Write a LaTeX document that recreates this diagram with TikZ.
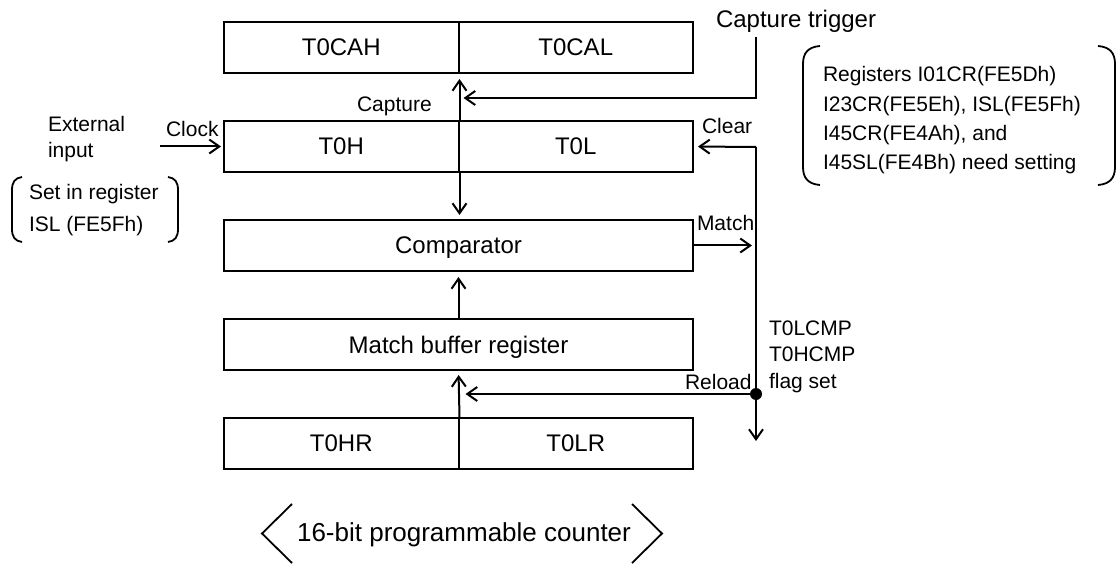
\documentclass[tikz,border=0pt]{standalone}
\usepackage{fontspec}
\setmainfont{Liberation Sans}
\usetikzlibrary{arrows.meta}
\begin{document}
\begin{tikzpicture}[x=1pt,y=-1pt, line width=2pt,
  reg/.style={draw, rectangle, minimum height=51pt, inner sep=0pt, text depth=0pt, font=\fontsize{24}{28}\selectfont},
  half/.style={reg, minimum width=234.5pt},
  full/.style={reg, minimum width=469pt},
  lbl/.style={inner sep=0pt, anchor=base west, font=\fontsize{21}{25}\selectfont},
  big/.style={inner sep=0pt, font=\fontsize{24}{28}\selectfont},
  arr/.style={-{Straight Barb[length=10pt,width=14pt]}},
  brk/.style={line width=1.8pt},
]
\useasboundingbox (0,0) rectangle (1117,564);
% registers
\node[half] (T0CAH) at (341.25,47.5) {T0CAH};
\node[half] (T0CAL) at (575.75,47.5) {T0CAL};
\node[half] (T0H) at (341.25,146.5) {T0H};
\node[half] (T0L) at (575.75,146.5) {T0L};
\node[full] (cmp) at (458.5,245.5) {Comparator};
\node[full] (mbr) at (458.5,344.5) {Match buffer register};
\node[half] (T0HR) at (341.25,443.5) {T0HR};
\node[half] (T0LR) at (575.75,443.5) {T0LR};
% coordinates
\coordinate (ct) at (756,37);
\coordinate (capin) at (458.5,98);
\coordinate (clr) at (756,147);
\coordinate (vend) at (756,441);
\coordinate (rl) at (756,394);
\coordinate (clk) at (160,146.5);
% connectors
\draw[arr, shorten >=5pt] (T0H.north east) -- (T0CAH.south east);
\draw[arr, shorten >=4pt] (T0H.south east) -- (cmp.north -| T0H.east);
\draw[arr, shorten >=5pt] (mbr.north) -- (cmp.south);
\draw[arr, shorten >=4pt] (T0HR.north east) -- (mbr.south);
\draw[arr, shorten >=5pt] (ct) |- (capin);
\draw[arr, shorten >=2pt] (clk) -- (T0H.west);
\draw[arr, shorten >=4pt] (clr) -- (T0L.east);
\draw[arr] (clr) -- (vend);
\draw[arr, shorten >=4pt] (cmp.east) -- (cmp.east -| clr);
\draw[arr, shorten >=7pt] (rl) -- (rl -| mbr.south);
\fill (rl) circle[radius=6pt];
% labels
\node[big, anchor=base west] (cttxt) at (715,28) {Capture trigger};
\node[lbl] (caplbl) at (356,111.5) {Capture};
\node[lbl] (clklbl) at (165,137) {Clock};
\node[lbl] (clrlbl) at (701,134) {Clear};
\node[lbl] (mtlbl) at (696,231) {Match};
\node[lbl] (rllbl) at (684,389) {Reload};
\node[lbl] (ext1) at (47,132) {External};
\node[lbl] (ext2) at (47,158) {input};
\node[lbl] (set1) at (28,200) {Set in register};
\node[lbl] (set2) at (28,232) {ISL (FE5Fh)};
\node[lbl] (n1) at (822,82) {Registers I01CR(FE5Dh)};
\node[lbl] (n2) at (822,111.3) {I23CR(FE5Eh), ISL(FE5Fh)};
\node[lbl] (n3) at (822,140.7) {I45CR(FE4Ah), and};
\node[lbl] (n4) at (822,170) {I45SL(FE4Bh) need setting};
\node[lbl] (f1) at (768,335) {T0LCMP};
\node[lbl] (f2) at (768,361.5) {T0HCMP};
\node[lbl] (f3) at (768,388) {flag set};
\node[inner sep=0pt, anchor=base, font=\fontsize{26}{30}\selectfont] (cap16) at (464,541) {16-bit programmable counter};
% brackets
\draw[brk] (22,177) .. controls (15,178) and (12,182) .. (12,190) -- (12,229) .. controls (12,237) and (15,241) .. (22,242);
\draw[brk] (168,177) .. controls (175,178) and (178,182) .. (178,190) -- (178,229) .. controls (178,237) and (175,241) .. (168,242);
\draw[brk] (820,46) .. controls (808,47) and (803,53) .. (803,64) -- (803,167) .. controls (803,178) and (808,184) .. (820,185);
\draw[brk] (1098,46) .. controls (1110,47) and (1115,53) .. (1115,64) -- (1115,167) .. controls (1115,178) and (1110,184) .. (1098,185);
\draw[brk] (292,504) -- (262,533.5) -- (292,563);
\draw[brk] (632,504) -- (662,533.5) -- (632,563);
\end{tikzpicture}
\end{document}
